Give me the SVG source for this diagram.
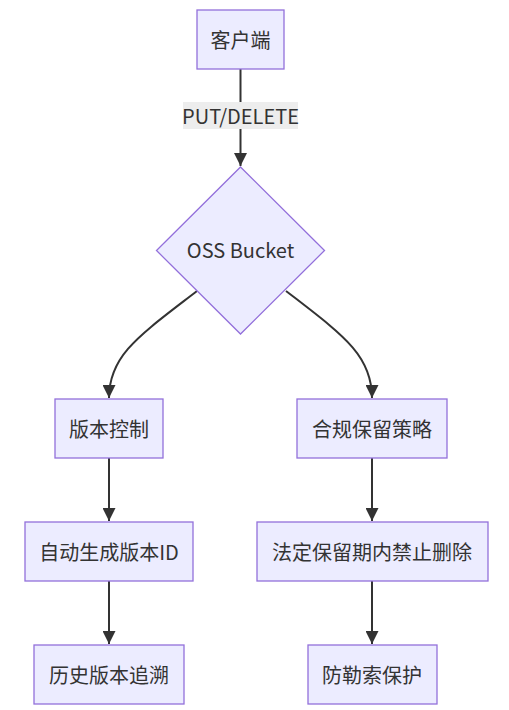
<svg xmlns="http://www.w3.org/2000/svg" width="509" height="710" viewBox="0 0 509 710">
<style>
.node rect, .node polygon { fill: #ECECFF; stroke: #9370DB; stroke-width: 1.3; }
.node text, .lbl text { font-family: "Noto Sans CJK SC", "Noto Sans", sans-serif; font-size: 20px; fill: #333; text-anchor: middle; dominant-baseline: central; }
.edge { fill: none; stroke: #333; stroke-width: 2; }
</style>
<defs>
<marker id="arr" viewBox="0 0 10 10" refX="10" refY="5" markerUnits="userSpaceOnUse" markerWidth="13" markerHeight="13" orient="auto">
<path d="M0,0 L10,5 L0,10 z" fill="#333"/>
</marker>
</defs>
<rect width="509" height="710" fill="#fff"/>
<g id="connectors">
<path class="edge" d="M240.5,69 L240.5,166" marker-end="url(#arr)"/>
<path class="edge" d="M197,291 C140,335 109,355 109,398" marker-end="url(#arr)"/>
<path class="edge" d="M286,291 C343,335 372,355 372,398" marker-end="url(#arr)"/>
<path class="edge" d="M109,458 L109,521" marker-end="url(#arr)"/>
<path class="edge" d="M109,581 L109,644" marker-end="url(#arr)"/>
<path class="edge" d="M372,458 L372,521" marker-end="url(#arr)"/>
<path class="edge" d="M372,581 L372,644" marker-end="url(#arr)"/>
</g>
<g id="label-put-delete" class="lbl">
<rect x="183" y="102" width="115" height="27" fill="#EDEDED"/>
<text x="240.5" y="115.5">PUT/DELETE</text>
</g>
<g id="client" class="node">
<rect x="197" y="10" width="87" height="59"/>
<text x="240.5" y="39.5">客户端</text>
</g>
<g id="bucket" class="node">
<polygon points="240.5,167 324.5,250.5 240.5,334 156.5,250.5"/>
<text x="240.5" y="249.5">OSS Bucket</text>
</g>
<g id="versioning" class="node">
<rect x="55" y="399" width="108" height="59"/>
<text x="109" y="428">版本控制</text>
</g>
<g id="compliance" class="node">
<rect x="297" y="399" width="150" height="59"/>
<text x="372" y="428">合规保留策略</text>
</g>
<g id="autoid" class="node">
<rect x="25" y="522" width="168" height="59"/>
<text x="109" y="551">自动生成版本ID</text>
</g>
<g id="nodelete" class="node">
<rect x="257" y="522" width="231" height="59"/>
<text x="372" y="551">法定保留期内禁止删除</text>
</g>
<g id="history" class="node">
<rect x="34" y="645" width="150" height="59"/>
<text x="109" y="674">历史版本追溯</text>
</g>
<g id="ransom" class="node">
<rect x="308" y="645" width="129" height="59"/>
<text x="372" y="674">防勒索保护</text>
</g>
</svg>
